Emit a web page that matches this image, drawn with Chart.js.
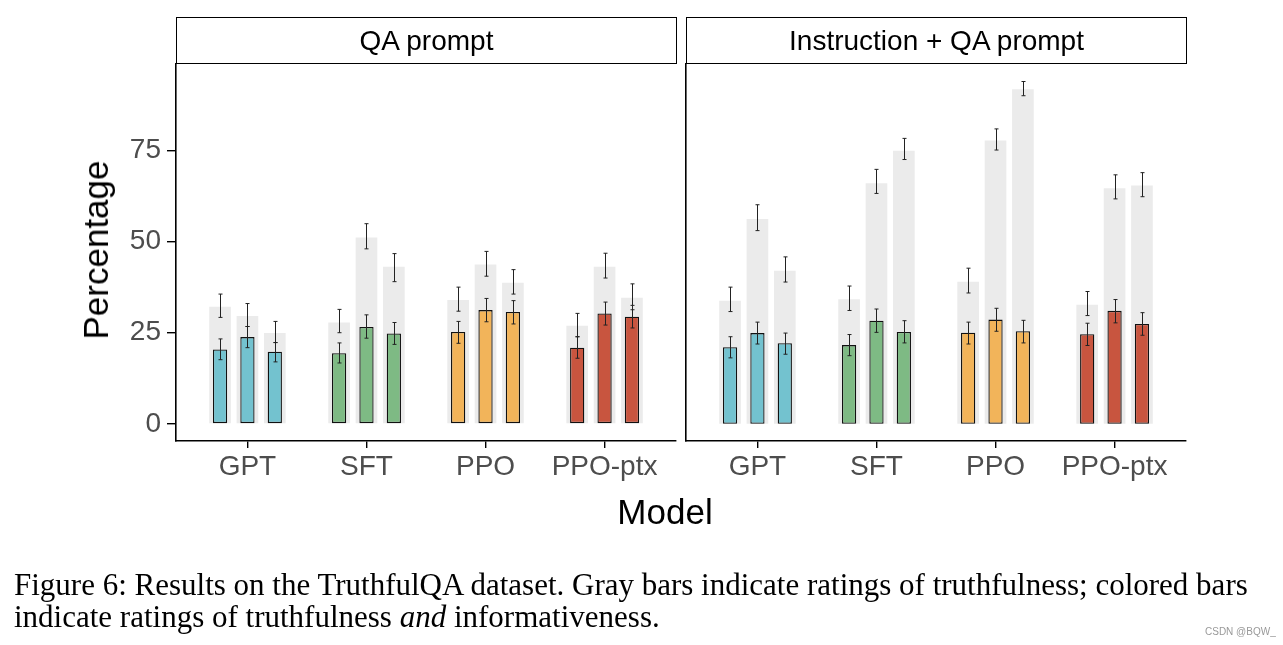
<!DOCTYPE html>
<html>
<head>
<meta charset="utf-8">
<script src="https://cdn.jsdelivr.net/npm/chart.js@4.4.0/dist/chart.umd.min.js"></script>
<style>
  html, body { margin: 0; padding: 0; background: #fff; }
  #wrap { position: relative; width: 1283px; height: 645px; overflow: hidden; font-family: "Liberation Sans", Arial, sans-serif; }
  canvas { position: absolute; left: 0; top: 0; }
  .strip { position: absolute; top: 17px; height: 45px; border: 1.6px solid #000; box-sizing: content-box;
           font-size: 28px; line-height: 45px; text-align: center; color: #000; }
  .ytitle { position: absolute; left: 96px; top: 250px; transform: translate(-50%, -50%) rotate(-90deg);
            font-size: 35px; white-space: nowrap; color: #000; }
  .xtitle { position: absolute; left: 665px; top: 512px; transform: translate(-50%, -50%);
            font-size: 35px; color: #000; }
  .caption { position: absolute; left: 14px; top: 569px; font-family: "Liberation Serif", "Times New Roman", serif;
             font-size: 31px; line-height: 32px; color: #000; white-space: nowrap; }
  .mark { position: absolute; left: 1205px; top: 626px; font-size: 10px; color: #999; }
</style>
</head>
<body>
<div id="wrap">
  <canvas id="qa" width="1283" height="645"></canvas>
  <canvas id="instr" width="1283" height="645"></canvas>
  <div class="strip" style="left:176px; width:499px;">QA prompt</div>
  <div class="strip" style="left:686px; width:499px;">Instruction + QA prompt</div>
  <div class="ytitle">Percentage</div>
  <div class="xtitle">Model</div>
  <div class="caption">Figure 6: Results on the TruthfulQA dataset. Gray bars indicate ratings of truthfulness; colored bars<br>indicate ratings of truthfulness <i>and</i> informativeness.</div>
  <div class="mark">CSDN @BQW_</div>
</div>
<script>
// categories and colours
const models = ['GPT', 'SFT', 'PPO', 'PPO-ptx'];
const modelColors = ['#73C2CF', '#7EBA84', '#F2B45A', '#C8553F'];
const yTicks = [0, 25, 50, 75];

// QA prompt panel: 3 model sizes per model
const qaTruthful = [[32.1, 29.6, 24.9], [27.8, 51.1, 43.1], [34.0, 43.7, 38.7], [26.9, 43.1, 34.6]];
const qaTruthfulErr = [
  [[29.2, 35.6], [26.7, 33.0], [22.3, 28.1]],
  [[25.0, 31.4], [48.0, 54.9], [39.0, 46.7]],
  [[30.9, 37.5], [40.5, 47.3], [35.6, 42.3]],
  [[23.9, 30.3], [40.0, 46.8], [31.3, 38.4]]
];
const qaTruthInfo = [[20.4, 23.8, 19.8], [19.4, 26.6, 24.8], [25.2, 31.2, 30.7], [20.9, 30.3, 29.4]];
const qaTruthInfoErr = [
  [[17.6, 23.3], [20.9, 26.7], [17.0, 22.3]],
  [[16.7, 22.2], [23.5, 29.9], [21.8, 27.8]],
  [[22.1, 28.1], [28.0, 34.4], [27.4, 33.8]],
  [[18.0, 23.9], [27.1, 33.4], [26.3, 32.5]]
];

// Instruction + QA prompt panel
const instrTruthful = [[33.8, 56.2, 42.0], [34.2, 66.0, 74.9], [39.0, 77.7, 91.8], [32.7, 64.6, 65.4]];
const instrTruthfulErr = [
  [[30.8, 37.5], [53.0, 60.1], [38.9, 45.8]],
  [[31.1, 37.8], [63.2, 69.8], [72.5, 78.3]],
  [[35.9, 42.7], [75.1, 80.9], [90.0, 93.9]],
  [[29.7, 36.3], [61.7, 68.3], [62.3, 68.9]]
];
const instrTruthInfo = [[21.0, 24.9, 22.1], [21.6, 28.3, 25.2], [25.0, 28.6, 25.4], [24.6, 31.0, 27.4]];
const instrTruthInfoErr = [
  [[18.1, 23.9], [21.9, 27.9], [19.1, 24.9]],
  [[18.7, 24.5], [25.1, 31.5], [22.2, 28.3]],
  [[21.9, 27.9], [25.4, 31.7], [22.2, 28.4]],
  [[21.5, 27.6], [27.7, 34.1], [24.3, 30.5]]
];

// dodge of the three sizes inside a model group (in category units)
const dodge = [-0.23, 0, 0.23];

function toPoints(vals, errs) {
  const pts = [];
  vals.forEach((sizes, m) => sizes.forEach((v, s) => {
    pts.push({ x: m + 1 + dodge[s], y: v, lo: errs[m][s][0], hi: errs[m][s][1] });
  }));
  return pts;
}
function pointColors(vals) {
  const c = [];
  vals.forEach((sizes, m) => sizes.forEach(() => c.push(modelColors[m])));
  return c;
}

// draws the error bars from lo/hi through the y scale
const errorBars = {
  id: 'errorBars',
  afterDatasetsDraw(chart) {
    const ctx = chart.ctx;
    const y = chart.scales.y;
    ctx.save();
    ctx.strokeStyle = '#222';
    ctx.lineWidth = 1;
    chart.data.datasets.forEach((ds, i) => {
      chart.getDatasetMeta(i).data.forEach((bar, j) => {
        const p = ds.data[j];
        const x = Math.round(bar.x) + 0.5;
        const y1 = y.getPixelForValue(p.lo), y2 = y.getPixelForValue(p.hi);
        ctx.beginPath();
        ctx.moveTo(x, y1); ctx.lineTo(x, y2);
        ctx.moveTo(x - 2, y1); ctx.lineTo(x + 2, y1);
        ctx.moveTo(x - 2, y2); ctx.lineTo(x + 2, y2);
        ctx.stroke();
      });
    });
    ctx.restore();
  }
};

function makePanel(id, truthful, truthfulErr, truthInfo, truthInfoErr, first) {
  const left = first ? 176 : 686;
  const right = first ? 676 : 1186;
  new Chart(document.getElementById(id), {
    type: 'bar',
    data: {
      datasets: [
        {
          data: toPoints(truthInfo, truthInfoErr),
          backgroundColor: pointColors(truthInfo),
          borderColor: '#111',
          borderWidth: 1.3,
          borderSkipped: false,
          grouped: false,
          order: 0,
          categoryPercentage: 1,
          barPercentage: 0.52
        },
        {
          data: toPoints(truthful, truthfulErr),
          backgroundColor: '#EBEBEB',
          borderWidth: 0,
          grouped: false,
          order: 1,
          categoryPercentage: 1,
          barPercentage: 0.79
        }
      ]
    },
    options: {
      responsive: false,
      animation: false,
      events: [],
      layout: { padding: { left: 0, right: 1283 - right, top: 64, bottom: 645 - 441 - 40 } },
      plugins: { legend: { display: false }, tooltip: { enabled: false } },
      scales: {
        x: {
          type: 'linear',
          offset: false,
          min: 0.4,
          max: 4.6,
          afterBuildTicks: s => { s.ticks = models.map((m, i) => ({ value: i + 1 })); },
          afterFit: s => { s.height = 40; s.paddingLeft = 0; s.paddingRight = 0; },
          ticks: {
            callback: v => models[v - 1],
            color: '#4D4D4D',
            font: { family: 'Liberation Sans', size: 28 },
            padding: 2,
            maxRotation: 0,
            autoSkip: false
          },
          grid: { display: true, offset: false, drawOnChartArea: false, drawTicks: true, tickLength: 7, color: '#000', lineWidth: 1.4 },
          border: { display: true, color: '#000', width: 1.6 }
        },
        y: {
          min: -4.7,
          max: 98.7,
          afterBuildTicks: s => { s.ticks = yTicks.map(v => ({ value: v })); },
          afterFit: s => { s.width = left; s.paddingTop = 0; s.paddingBottom = 0; },
          ticks: {
            display: first,
            color: '#4D4D4D',
            font: { family: 'Liberation Sans', size: 28 },
            padding: 6
          },
          grid: { display: first, drawOnChartArea: false, drawTicks: first, tickLength: 9, color: '#000', lineWidth: 1.4 },
          border: { display: true, color: '#000', width: 1.6 }
        }
      }
    },
    plugins: [errorBars]
  });
}

makePanel('qa', qaTruthful, qaTruthfulErr, qaTruthInfo, qaTruthInfoErr, true);
makePanel('instr', instrTruthful, instrTruthfulErr, instrTruthInfo, instrTruthInfoErr, false);
</script>
</body>
</html>
